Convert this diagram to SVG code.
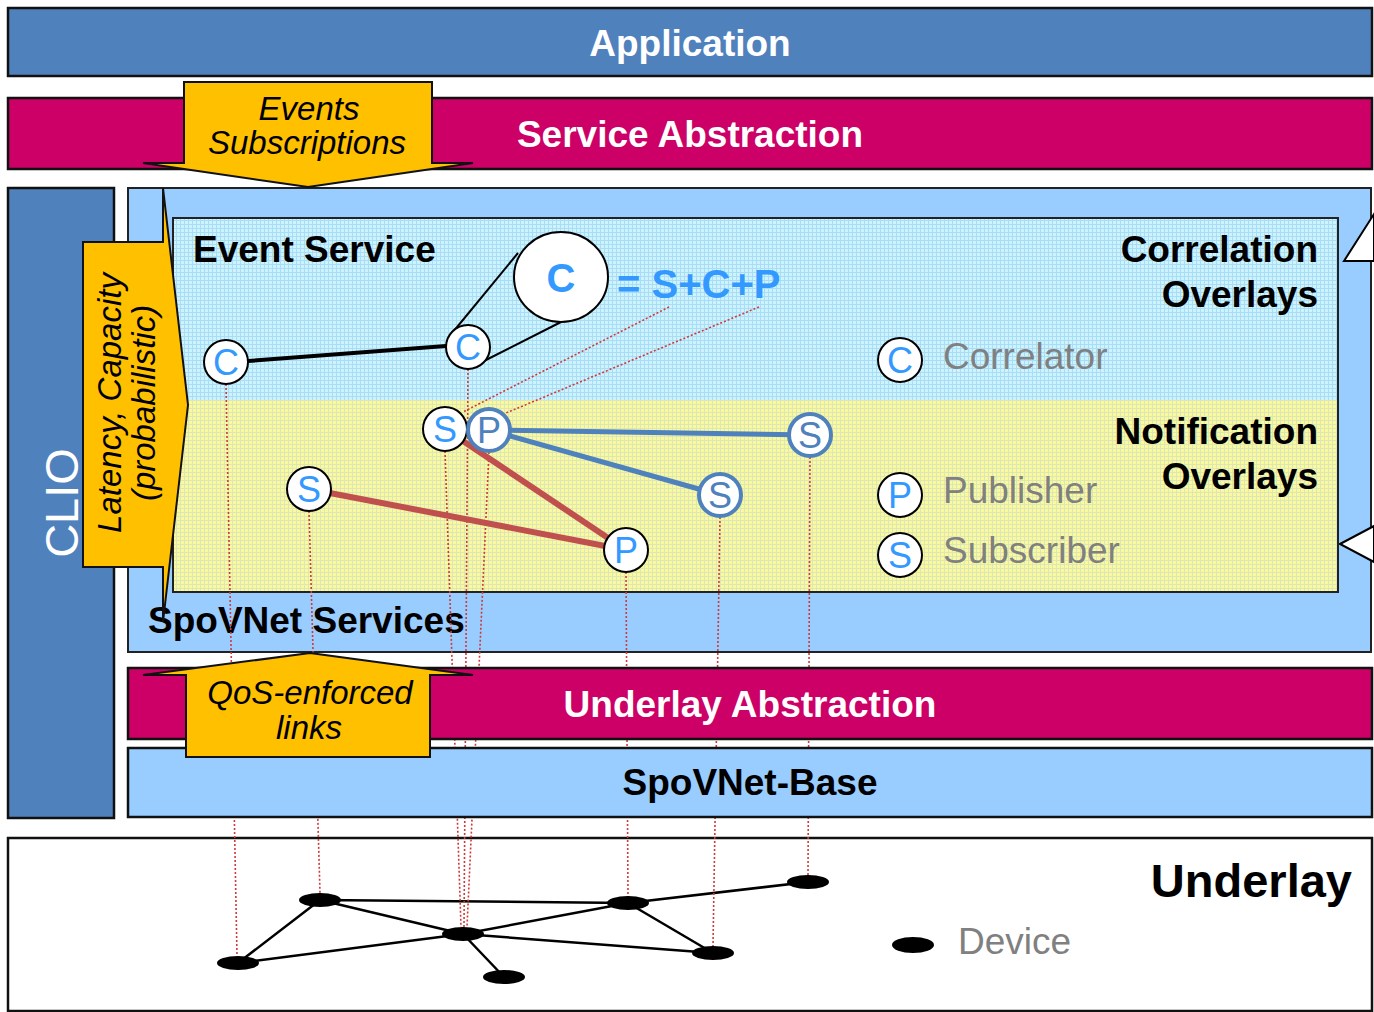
<svg xmlns="http://www.w3.org/2000/svg" width="1374" height="1012" viewBox="0 0 1374 1012">
<defs>
<pattern id="gridC" width="4" height="4" patternUnits="userSpaceOnUse">
<rect width="4" height="4" fill="#CDF3FF"/>
<path d="M0 0.5H4M0.5 0V4" stroke="#A9DDF5" stroke-width="1"/>
</pattern>
<pattern id="gridY" width="4" height="4" patternUnits="userSpaceOnUse">
<rect width="4" height="4" fill="#FAFA9C"/>
<path d="M0 0.5H4M0.5 0V4" stroke="#DDE6B8" stroke-width="1"/>
</pattern>
<style>
.bar{stroke:#111;stroke-width:2.5}
.blue{fill:#4F81BD}
.crim{fill:#CC0066}
.lb{fill:#99CCFF}
.yel{fill:#FFC000;stroke:#111;stroke-width:2}
.t{font-family:"Liberation Sans",Arial,sans-serif}
.wb{fill:#fff;font-weight:bold;font-size:37px;text-anchor:middle}
.kb{fill:#000;font-weight:bold;font-size:37px}
.it{fill:#000;font-style:italic;font-size:33px;text-anchor:middle}
.gr{fill:#808080;font-size:37px}
.dot{stroke:#D03A3A;stroke-width:1.6;stroke-dasharray:2 2;fill:none}
.ul{stroke:#000;stroke-width:2.5;fill:none}
.dev{fill:#000}
.nd{fill:#fff;stroke:#000;stroke-width:2}
.ndb{fill:#fff;stroke:#4F81BD;stroke-width:4}
.lt{font-size:36px;text-anchor:middle;fill:#3399FF}
.ltb{font-size:36px;text-anchor:middle;fill:#4F81BD}
</style>
</defs>

<g id="application">
<rect class="bar blue" x="8" y="8" width="1364" height="68"/>
<text class="t wb" x="690" y="56">Application</text>
</g>
<g id="service-abstraction">
<rect class="bar crim" x="8" y="98" width="1364" height="71"/>
<text class="t wb" x="690" y="147">Service Abstraction</text>
</g>
<g id="clio">
<rect class="bar blue" x="8" y="188" width="106" height="630"/>
<text class="t" x="0" y="0" transform="translate(78,503) rotate(-90)" font-size="47" fill="#fff" text-anchor="middle">CLIO</text>
</g>
<g id="spovnet-services">
<rect class="lb" x="128" y="188" width="1243" height="464" stroke="#222" stroke-width="2"/>
<polygon points="1344,261 1374,214 1374,261" fill="#fff" stroke="#000" stroke-width="2"/>
<polygon points="1340,544 1374,526 1374,562" fill="#fff" stroke="#000" stroke-width="2"/>
<text class="t kb" x="148" y="633">SpoVNet Services</text>
</g>
<g id="event-service">
<rect x="173" y="218" width="1165" height="182" fill="url(#gridC)"/>
<rect x="173" y="400" width="1165" height="192" fill="url(#gridY)"/>
<rect x="173" y="218" width="1165" height="374" fill="none" stroke="#222" stroke-width="2"/>
<text class="t kb" x="193" y="262">Event Service</text>
<text class="t kb" x="1318" y="262" text-anchor="end">Correlation</text>
<text class="t kb" x="1318" y="307" text-anchor="end">Overlays</text>
<text class="t kb" x="1318" y="444" text-anchor="end">Notification</text>
<text class="t kb" x="1318" y="489" text-anchor="end">Overlays</text>
</g>
<g id="legend">
<circle class="nd" cx="900" cy="360" r="22"/><text class="t lt" x="900" y="373">C</text>
<text class="t gr" x="943" y="369">Correlator</text>
<circle class="nd" cx="900" cy="495" r="22"/><text class="t lt" x="900" y="508">P</text>
<text class="t gr" x="943" y="503">Publisher</text>
<circle class="nd" cx="900" cy="555" r="22"/><text class="t lt" x="900" y="568">S</text>
<text class="t gr" x="943" y="563">Subscriber</text>
</g>
<g id="underlay">
<rect x="8" y="838" width="1364" height="173" fill="#fff" stroke="#111" stroke-width="2.5"/>
<text class="t" x="1352" y="897" font-size="47" font-weight="bold" text-anchor="end">Underlay</text>
<ellipse class="dev" cx="913" cy="945" rx="21" ry="8"/>
<text class="t gr" x="958" y="954">Device</text>
</g>
<g id="underlay-network">
<path class="ul" d="M320 900L628 903M320 900L238 963M320 900L463 934M238 963L463 934M463 934L628 903M463 934L504 977M463 934L713 953M628 903L713 953M628 903L808 882"/>
<ellipse class="dev" cx="238" cy="963" rx="21" ry="7"/>
<ellipse class="dev" cx="320" cy="900" rx="21" ry="7"/>
<ellipse class="dev" cx="463" cy="934" rx="21" ry="7"/>
<ellipse class="dev" cx="504" cy="977" rx="21" ry="7"/>
<ellipse class="dev" cx="628" cy="903" rx="21" ry="7"/>
<ellipse class="dev" cx="713" cy="953" rx="21" ry="7"/>
<ellipse class="dev" cx="808" cy="882" rx="21" ry="7"/>
</g>
<g id="mapping-lines">
<line class="dot" x1="226" y1="384" x2="237" y2="956"/>
<line class="dot" x1="309" y1="511" x2="320" y2="893"/>
<line class="dot" x1="445" y1="451" x2="461" y2="927"/>
<line class="dot" x1="468" y1="369" x2="464" y2="927"/>
<line class="dot" x1="489" y1="452" x2="467" y2="927"/>
<line class="dot" x1="626" y1="572" x2="628" y2="896"/>
<line class="dot" x1="720" y1="517" x2="713" y2="946"/>
<line class="dot" x1="810" y1="457" x2="808" y2="875"/>
<line class="dot" x1="669" y1="307" x2="463" y2="412"/>
<line class="dot" x1="759" y1="307" x2="506" y2="413"/>
</g>
<g id="underlay-abstraction">
<rect class="bar crim" x="128" y="668" width="1244" height="71"/>
<text class="t wb" x="750" y="717">Underlay Abstraction</text>
</g>
<g id="spovnet-base">
<rect class="bar lb" x="128" y="748" width="1244" height="69"/>
<text class="t kb" x="750" y="795" text-anchor="middle">SpoVNet-Base</text>
</g>
<g id="latency-arrow">
<polygon class="yel" points="83,242 163,242 163,188 188,405 163,622 163,567 83,567"/>
<text class="t it" transform="translate(121,403) rotate(-90)">Latency, Capacity</text>
<text class="t it" transform="translate(155,403) rotate(-90)">(probabilistic)</text>
</g>
<g id="events-arrow">
<polygon class="yel" points="184,82 432,82 432,163 473,163 308,187 143,163 184,163"/>
<text class="t it" x="309" y="120">Events</text>
<text class="t it" x="307" y="154">Subscriptions</text>
</g>
<g id="qos-arrow">
<polygon class="yel" points="310,653 473,675 430,675 430,757 186,757 186,675 143,675"/>
<text class="t it" x="310" y="704">QoS-enforced</text>
<text class="t it" x="309" y="739">links</text>
</g>
<g id="overlay-edges">
<line x1="248" y1="361" x2="446" y2="346" stroke="#000" stroke-width="4"/>
<line x1="453" y1="332" x2="518" y2="253" stroke="#000" stroke-width="2"/>
<line x1="482" y1="362" x2="561" y2="322" stroke="#000" stroke-width="2"/>
<line x1="489" y1="430" x2="810" y2="435" stroke="#4F81BD" stroke-width="5"/>
<line x1="489" y1="430" x2="720" y2="495" stroke="#4F81BD" stroke-width="5"/>
<line x1="445" y1="429" x2="626" y2="550" stroke="#C0504D" stroke-width="6"/>
<line x1="309" y1="489" x2="626" y2="550" stroke="#C0504D" stroke-width="6"/>
</g>
<g id="node-c1"><circle class="nd" cx="226" cy="362" r="22"/><text class="t lt" x="226" y="375">C</text></g>
<g id="node-c2"><circle class="nd" cx="468" cy="347" r="22"/><text class="t lt" x="468" y="360">C</text></g>
<g id="node-bigc"><ellipse class="nd" cx="561" cy="277" rx="47" ry="45"/><text class="t" x="561" y="292" font-size="40" font-weight="bold" fill="#3399FF" text-anchor="middle">C</text></g>
<text class="t" x="617" y="298" font-size="40" font-weight="bold" fill="#3399FF">= S+C+P</text>
<g id="node-s1"><circle class="nd" cx="445" cy="429" r="22"/><text class="t lt" x="445" y="442">S</text></g>
<g id="node-p1"><circle class="ndb" cx="489" cy="430" r="21"/><text class="t ltb" x="489" y="443">P</text></g>
<g id="node-s2"><circle class="ndb" cx="810" cy="435" r="21"/><text class="t ltb" x="810" y="448">S</text></g>
<g id="node-s3"><circle class="ndb" cx="720" cy="495" r="21"/><text class="t ltb" x="720" y="508">S</text></g>
<g id="node-s4"><circle class="nd" cx="309" cy="489" r="22"/><text class="t lt" x="309" y="502">S</text></g>
<g id="node-p2"><circle class="nd" cx="626" cy="550" r="22"/><text class="t lt" x="626" y="563">P</text></g>
</svg>
